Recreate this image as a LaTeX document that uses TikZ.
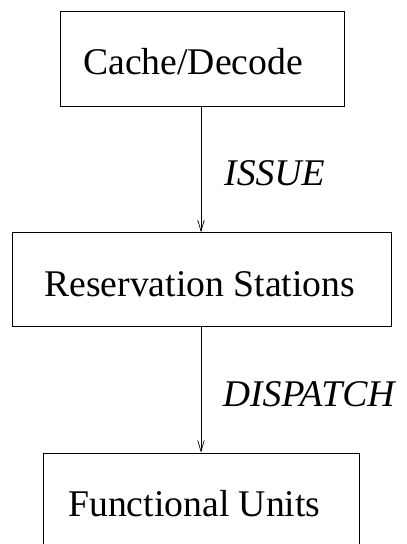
\documentclass[tikz,border=0pt]{standalone}
\usepackage{fontspec}
\setmainfont{Liberation Serif}
\usetikzlibrary{arrows.meta}
\begin{document}
\begin{tikzpicture}[x=1pt,y=-1pt,
  stagebox/.style={draw,line width=0.8pt,inner sep=0pt,minimum width=#1},
  lbl/.style={anchor=base west,inner sep=0pt,font=\fontsize{37.7}{40}\selectfont},
  tag/.style={lbl,font=\fontsize{37.7}{40}\selectfont\itshape},
  flow/.style={line width=0.7pt,-{Straight Barb[length=11pt,width=6.5pt,line width=0.7pt]}}]
\useasboundingbox (0,0) rectangle (407,544);
\clip (0,0) rectangle (407,544);

% pipeline stages
\node[stagebox=284pt,minimum height=94.3pt] (cache) at (202,58.85) {};
\node[stagebox=378.3pt,minimum height=94pt] (resv) at (201.85,279.7) {};
\node[stagebox=315.6pt,minimum height=147pt] (func) at (201.5,526.5) {};

\node[lbl] (tcache) at (83,74) {Cache/Decode};
\node[lbl] (tresv) at (44,296) {Reservation Stations};
\node[lbl] (tfunc) at (68,516.7) {Functional Units};

% transitions between stages
\draw[flow] (cache.south -| 201,0) -- (resv.north -| 201,0);
\draw[flow] (resv.south -| 201,0) -- (func.north -| 201,0);

\node[tag] (issue) at (224,185) {ISSUE};
\node[tag] (dispatch) at (222.7,406.7) {DISPATCH};
\end{tikzpicture}
\end{document}
